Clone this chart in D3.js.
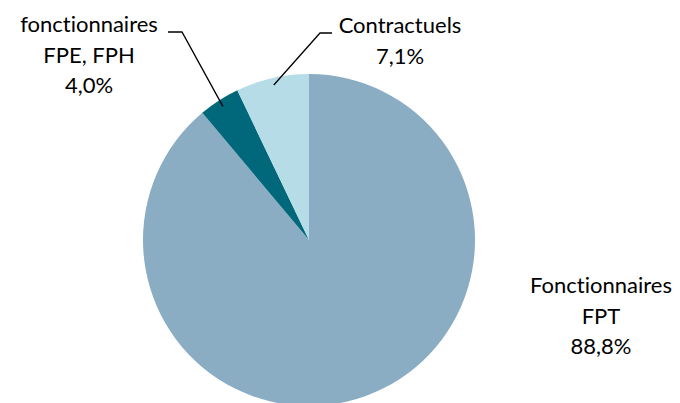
<!DOCTYPE html>
<meta charset="utf-8">
<style>
body { margin: 0; background: #fff; }
text { font-family: Lato, "Open Sans", sans-serif; font-size: 22px; fill: #000; font-variant-ligatures: none; }
.leader { fill: none; stroke: #000; stroke-width: 1.3px; }
</style>
<svg width="680" height="403"></svg>
<script src="https://d3js.org/d3.v7.min.js"></script>
<script>
// parts de chaque statut (%)
var categories = ["Fonctionnaires FPT", "fonctionnaires FPE, FPH", "Contractuels"];
var values = [88.8, 4.0, 7.1];
var labels = [["Fonctionnaires", "FPT", "88,8%"], ["fonctionnaires", "FPE, FPH", "4,0%"], ["Contractuels", "7,1%"]];
var colors = ["#8AADC4", "#00687A", "#B6DCE7"];

var svg = d3.select("svg"),
    cx = 309, cy = 240, r = 166;

var pie = d3.pie().sort(null).value(function(d) { return d; });
var arc = d3.arc().innerRadius(0).outerRadius(r);
var arcs = pie(values);

var g = svg.append("g").attr("transform", "translate(" + cx + "," + cy + ")");

g.selectAll("path")
  .data(arcs)
  .enter().append("path")
    .attr("d", arc)
    .attr("fill", function(d, i) { return colors[i]; });

// position des étiquettes (centre, première ligne de base)
var labelPos = [[601, 293], [89, 32], [400, 33]];

svg.selectAll("text.lbl")
  .data(labels)
  .enter().append("text")
    .attr("class", "lbl")
    .attr("text-anchor", "middle")
    .each(function(lines, i) {
      var t = d3.select(this);
      lines.forEach(function(s, k) {
        t.append("tspan")
          .attr("x", labelPos[i][0])
          .attr("y", labelPos[i][1] + k * 30.5)
          .text(s);
      });
    });

// lignes de rappel : de l'étiquette vers le bord de la part
var edge = d3.arc().innerRadius(r - 7).outerRadius(r - 7);
var leaders = [
  { i: 1, x0: 168, x1: 182, y: 32 },
  { i: 2, x0: 332, x1: 320, y: 33 }
];
leaders.forEach(function(l) {
  var c = edge.centroid(arcs[l.i]);
  svg.append("path")
    .attr("class", "leader")
    .attr("d", "M" + l.x0 + "," + l.y + "L" + l.x1 + "," + l.y + "L" + (cx + c[0]) + "," + (cy + c[1]));
});
</script>
